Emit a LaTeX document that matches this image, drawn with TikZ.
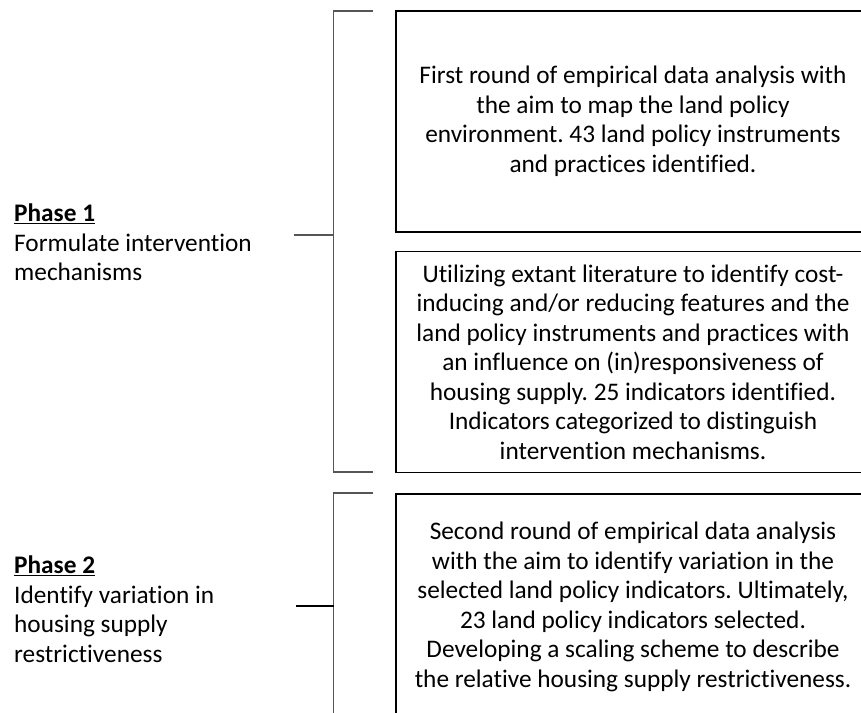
\documentclass[tikz,border=0pt]{standalone}
\usepackage{fontspec}
\setmainfont{Carlito}[Ligatures=NoCommon]
\frenchspacing
\definecolor{brkgray}{HTML}{555555}
\begin{document}
\begin{tikzpicture}[x=1pt,y=-1pt,
  txtfont/.style={font=\fontsize{25.3}{29.5}\selectfont},
  box/.style={draw=black,line width=1.8pt,minimum width=474pt,inner sep=0pt,align=center,txtfont},
  boxtext/.style={inner sep=0pt,align=center,txtfont},
  brk/.style={draw=brkgray,line width=1.3pt},
  brkmid/.style={draw=black,line width=1.8pt},
  lbl/.style={anchor=north west,align=left,inner sep=0pt,txtfont}]
\useasboundingbox (0,0) rectangle (861,712);
\clip (0,0) rectangle (861,712);
% boxes
\node[box,minimum height=221pt] (b1) at (633,121.5) {First round of empirical data analysis with\\the aim to map the land policy\\environment. 43 land policy instruments\\and practices identified.};
\node[box,minimum height=221pt] (b2) at (633,362) {Utilizing extant literature to identify cost-\\inducing and/or reducing features and the\\land policy instruments and practices with\\an influence on (in)responsiveness of\\housing supply. 25 indicators identified.\\Indicators categorized to distinguish\\intervention mechanisms.};
\node[box,minimum height=260pt,anchor=north] (b3) at (633,493) {};
\node[boxtext] (t3) at (633,607) {Second round of empirical data analysis\\with the aim to identify variation in the\\selected land policy indicators. Ultimately,\\23 land policy indicators selected.\\Developing a scaling scheme to describe\\the relative housing supply restrictiveness.};
% labels
\node[lbl] (p1) at (14,204) {\underline{\textbf{Phase 1}}\\Formulate intervention\\mechanisms};
\node[lbl] (p2) at (14,556) {\underline{\textbf{Phase 2}}\\Identify variation in\\housing supply\\restrictiveness};
% bracket 1
\coordinate (k1t) at (373,11);
\coordinate (k1a) at (333.5,11);
\coordinate (k1b) at (333.5,472);
\coordinate (k1e) at (373,472);
\coordinate (k1m) at (333.5,235);
\coordinate (k1l) at (294,235);
\draw[brk] (k1t) -- (k1a) -- (k1b) -- (k1e);
\draw[brk] (k1m) -- (k1l);
% bracket 2
\coordinate (k2t) at (373,493);
\coordinate (k2a) at (333.5,493);
\coordinate (k2b) at (333.5,730);
\coordinate (k2m) at (333.5,606);
\coordinate (k2l) at (296,606);
\draw[brk] (k2t) -- (k2a) -- (k2b);
\draw[brkmid] (k2m) -- (k2l);
\end{tikzpicture}
\end{document}
